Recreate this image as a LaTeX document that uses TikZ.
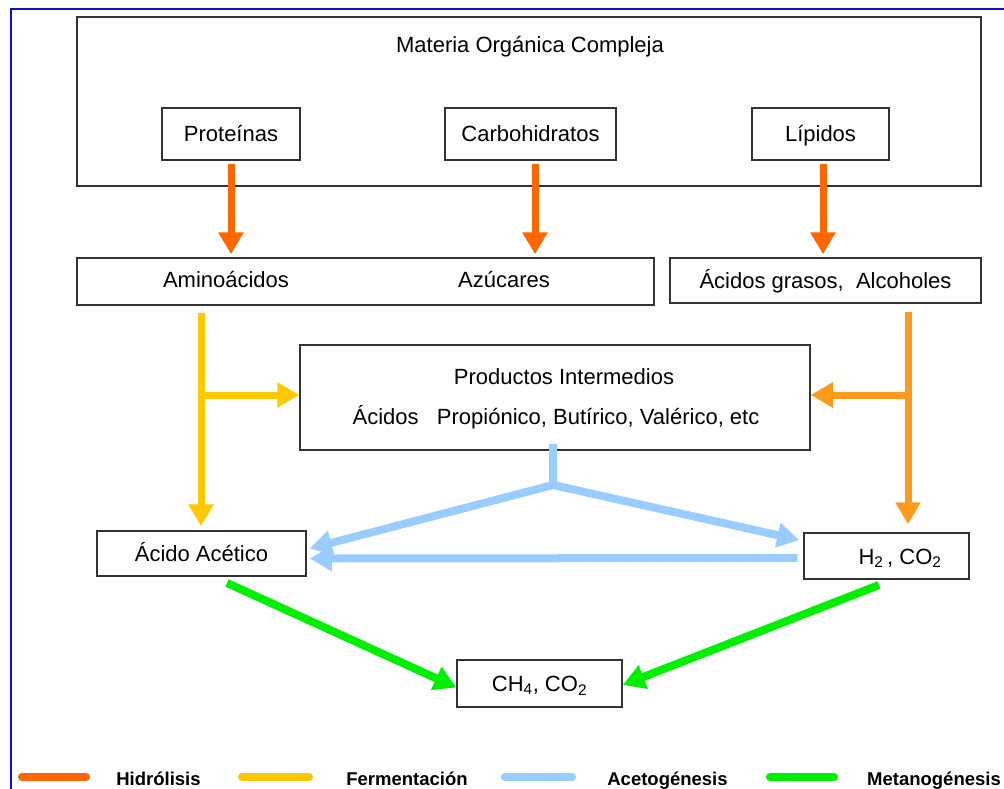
\documentclass[tikz,border=0pt]{standalone}
\usepackage{fontspec}
\setmainfont{Liberation Sans}
\usetikzlibrary{arrows.meta,calc}
\definecolor{hyd}{HTML}{FF6600}
\definecolor{fer}{HTML}{FFC800}
\definecolor{ferb}{HTML}{FF9A1A}
\definecolor{acg}{HTML}{99CCFF}
\definecolor{met}{HTML}{00EE00}
\definecolor{frame}{HTML}{1010D0}
\definecolor{boxline}{HTML}{333333}
\tikzset{
  bx/.style={draw=boxline, line width=1.5pt, inner sep=0pt, text height=16pt, text depth=0pt, font=\fontsize{22}{26}\selectfont},
  txt/.style={inner sep=0pt, text height=16pt, text depth=0pt, font=\fontsize{22}{26}\selectfont},
  flow/.style={line width=7pt, -{Triangle[length=22pt,width=24pt]}},
  hydarr/.style={flow, draw=hyd, fill=hyd},
  ferarr/.style={flow, draw=fer, fill=fer},
  ferbarr/.style={flow, draw=ferb, fill=ferb},
  acgarr/.style={flow, line width=8pt, draw=acg, fill=acg},
  metarr/.style={flow, line width=8pt, draw=met, fill=met},
  legbar/.style={line width=8pt, line cap=round},
  legtxt/.style={inner sep=0pt, anchor=base, font=\fontsize{18.5}{22}\selectfont\bfseries}
}
\begin{document}
\begin{tikzpicture}[x=1pt,y=-1pt]
\useasboundingbox (0,0) rectangle (1004,789);
% outer frame
\draw[frame, line width=2pt] (11,789) -- (11,9) -- (1004,9);

% top box
\node[bx, minimum width=904pt, minimum height=169pt] (mat) at (529,101.5) {};
\node[txt] (mattxt) at (530,45) {Materia Orgánica Compleja};
\node[bx, minimum width=138pt, minimum height=52pt] (prot) at (231,134) {Proteínas};
\node[bx, minimum width=171pt, minimum height=52pt] (carb) at (530.5,134) {Carbohidratos};
\node[bx, minimum width=137pt, minimum height=52pt] (lip) at (820.5,134) {Lípidos};

% second row
\node[bx, minimum width=577pt, minimum height=47pt] (amino) at (365.5,281.5) {};
\node[txt] (aminotxt) at (226,279) {Aminoácidos};
\node[txt] (azutxt) at (504,279) {Azúcares};
\node[bx, minimum width=311pt, minimum height=45pt] (grasos) at (825.5,280.5) {Ácidos grasos,\ \ Alcoholes};

% intermediate products
\node[bx, minimum width=510pt, minimum height=105pt] (prod) at (555,397.5) {};
\node[txt] (prodt1) at (564,376) {Productos Intermedios};
\node[txt] (prodt2) at (556,416) {Ácidos\ \ \ Propiónico, Butírico, Valérico, etc};

% lower boxes
\node[bx, minimum width=209pt, minimum height=45pt] (acet) at (201.5,553.5) {Ácido Acético};
\node[bx, minimum width=165pt, minimum height=46pt] (h2) at (886.5,556) {};
\node[txt] (h2txt) at (900,556) {H\textsubscript{2}\,, CO\textsubscript{2}};
\node[bx, minimum width=165pt, minimum height=47pt] (ch4) at (539.5,683.5) {CH\textsubscript{4}, CO\textsubscript{2}};

% hydrolysis arrows
\draw[hydarr] ([yshift=-3pt]prot.south) -- ([yshift=3pt]prot.south |- amino.north);
\draw[hydarr] ([xshift=4.5pt,yshift=-3pt]carb.south) -- ([xshift=4.5pt,yshift=3pt]carb.south |- amino.north);
\draw[hydarr] ([xshift=2.5pt,yshift=-3pt]lip.south) -- ([xshift=2.5pt,yshift=3pt]lip.south |- grasos.north);

% fermentation (left)
\coordinate (ltop) at (201,313);
\coordinate (lj) at (201,395);
\draw[ferarr] (ltop) -- ([yshift=4pt]acet.north -| ltop);
\draw[ferarr] (lj) -- (prod.west |- lj);

% fermentation (right)
\coordinate (rtop) at (908,312);
\coordinate (rj) at (908,395);
\draw[ferbarr] (rtop) -- ([yshift=8pt]h2.north -| rtop);
\draw[ferbarr] (rj) -- (prod.east |- rj);

% acetogenesis
\coordinate (stub) at (553,444);
\coordinate (aj) at (553,485);
\draw[acg, line width=8pt] (stub) -- (aj);
\draw[acgarr] (aj) -- ([xshift=-4pt,yshift=16pt]h2.west);
\draw[acgarr] (aj) -- ([xshift=3pt,yshift=5pt]acet.east);
\draw[acgarr] ([xshift=-6pt,yshift=-2pt]h2.west) -- ([xshift=3pt,yshift=-5pt]acet.east);

% methanogenesis
\coordinate (ms1) at (227,583);
\coordinate (ms2) at (879,585);
\draw[metarr] (ms1) -- ([yshift=-4pt]ch4.west);
\draw[metarr] (ms2) -- ([yshift=-1.5pt]ch4.east);

% legend
\draw[legbar, hyd] (22,777) -- (86,777);
\node[legtxt] (l1) at (158.5,785) {Hidrólisis};
\draw[legbar, fer] (242,777) -- (309,777);
\node[legtxt] (l2) at (407,785) {Fermentación};
\draw[legbar, acg] (505,777) -- (572,777);
\node[legtxt] (l3) at (667.5,785) {Acetogénesis};
\draw[legbar, met] (770,777) -- (834,777);
\node[legtxt] (l4) at (934,785) {Metanogénesis};
\end{tikzpicture}
\end{document}
